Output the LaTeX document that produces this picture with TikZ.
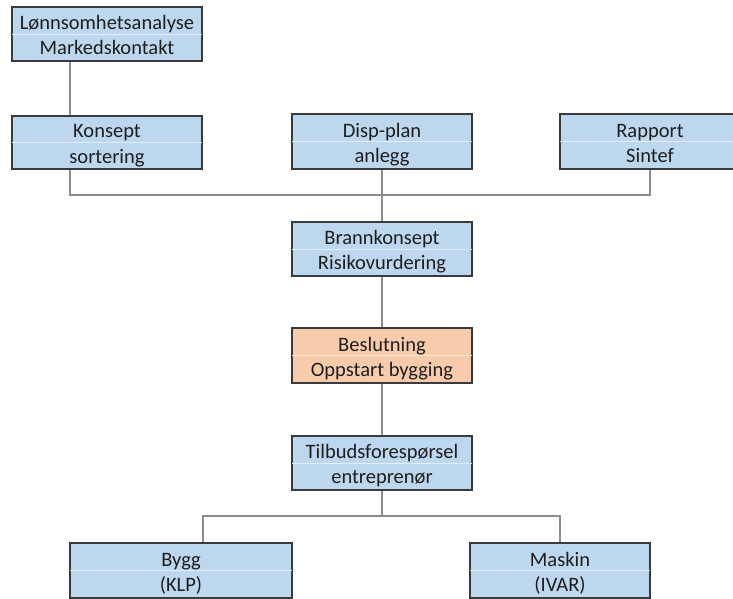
\documentclass[tikz,border=0pt]{standalone}
\usepackage{fontspec}
\setmainfont{Carlito}
\definecolor{boxblue}{HTML}{BDD7EE}
\definecolor{boxorange}{HTML}{F8CBAD}
\definecolor{boxline}{HTML}{3A3A3A}
\definecolor{conn}{HTML}{8C8C8C}
\definecolor{txt}{HTML}{1E1E1E}
\begin{document}
\begin{tikzpicture}[x=1pt,y=-1pt,
  box/.style={draw=boxline, line width=1.6pt, fill=boxblue, inner sep=0pt, minimum width=180pt, minimum height=54pt},
  obox/.style={box, fill=boxorange},
  divider/.style={draw=white!55!boxblue, line width=0.8pt},
  odivider/.style={draw=white!55!boxorange, line width=0.8pt},
  lbl/.style={text=txt, font=\fontsize{20.5}{24}\selectfont, inner sep=0pt, anchor=base},
  link/.style={draw=conn, line width=1.4pt}]
\useasboundingbox (0,0) rectangle (733,599);

\coordinate (jl) at (70,195);
\coordinate (jr) at (650,195);
\coordinate (bl) at (203,516);
\coordinate (br) at (560,516);

\node[box, minimum width=190pt] (b1) at (107,34) {};
\node[box, minimum width=190pt, minimum height=53pt] (konsept) at (107,142.5) {};
\node[box, minimum height=55pt] (disp) at (382,141.5) {};
\node[box, minimum height=55pt] (rapport) at (650,141.5) {};
\node[box] (brann) at (382,249) {};
\node[obox, minimum height=55pt] (besl) at (382,355.5) {};
\node[box] (tilbud) at (382,463) {};
\node[box, minimum width=222pt, minimum height=55pt] (bygg) at (181,570.5) {};
\node[box, minimum height=55pt] (maskin) at (560,570.5) {};

\draw[link] ([xshift=-37pt]b1.south) -- ([xshift=-37pt]konsept.north);
\draw[link] ([xshift=-37pt]konsept.south) -- (jl) -- (jr) -- (rapport.south);
\draw[link] (disp.south) -- (brann.north);
\draw[link] (brann.south) -- (besl.north);
\draw[link] (besl.south) -- (tilbud.north);
\draw[link] (tilbud.south) -- (tilbud.south |- bl);
\draw[link] (bygg.north -| bl) -- (bl) -- (br) -- (maskin.north);

\foreach \n in {b1,konsept,disp,rapport,brann,tilbud,bygg,maskin}
  \draw[divider] ([xshift=1pt]\n.west) -- ([xshift=-1pt]\n.east);
\draw[odivider] ([xshift=1pt]besl.west) -- ([xshift=-1pt]besl.east);

\tikzset{up/.style={yshift=4.5pt}, dn/.style={yshift=-20.5pt}}
\node[lbl] (t1a) at ([up]b1.center) {Lønnsomhetsanalyse};
\node[lbl] (t1b) at ([dn]b1.center) {Markedskontakt};
\node[lbl] (t2a) at ([up]konsept.center) {Konsept};
\node[lbl] (t2b) at ([dn]konsept.center) {sortering};
\node[lbl] (t3a) at ([up]disp.center) {Disp-plan};
\node[lbl] (t3b) at ([dn]disp.center) {anlegg};
\node[lbl] (t4a) at ([up]rapport.center) {Rapport};
\node[lbl] (t4b) at ([dn]rapport.center) {Sintef};
\node[lbl] (t5a) at ([up]brann.center) {Brannkonsept};
\node[lbl] (t5b) at ([dn]brann.center) {Risikovurdering};
\node[lbl] (t6a) at ([up]besl.center) {Beslutning};
\node[lbl] (t6b) at ([dn]besl.center) {Oppstart bygging};
\node[lbl] (t7a) at ([up]tilbud.center) {Tilbudsforespørsel};
\node[lbl] (t7b) at ([dn]tilbud.center) {entreprenør};
\node[lbl] (t8a) at ([up]bygg.center) {Bygg};
\node[lbl] (t8b) at ([dn]bygg.center) {(KLP)};
\node[lbl] (t9a) at ([up]maskin.center) {Maskin};
\node[lbl] (t9b) at ([dn]maskin.center) {(IVAR)};
\end{tikzpicture}
\end{document}
